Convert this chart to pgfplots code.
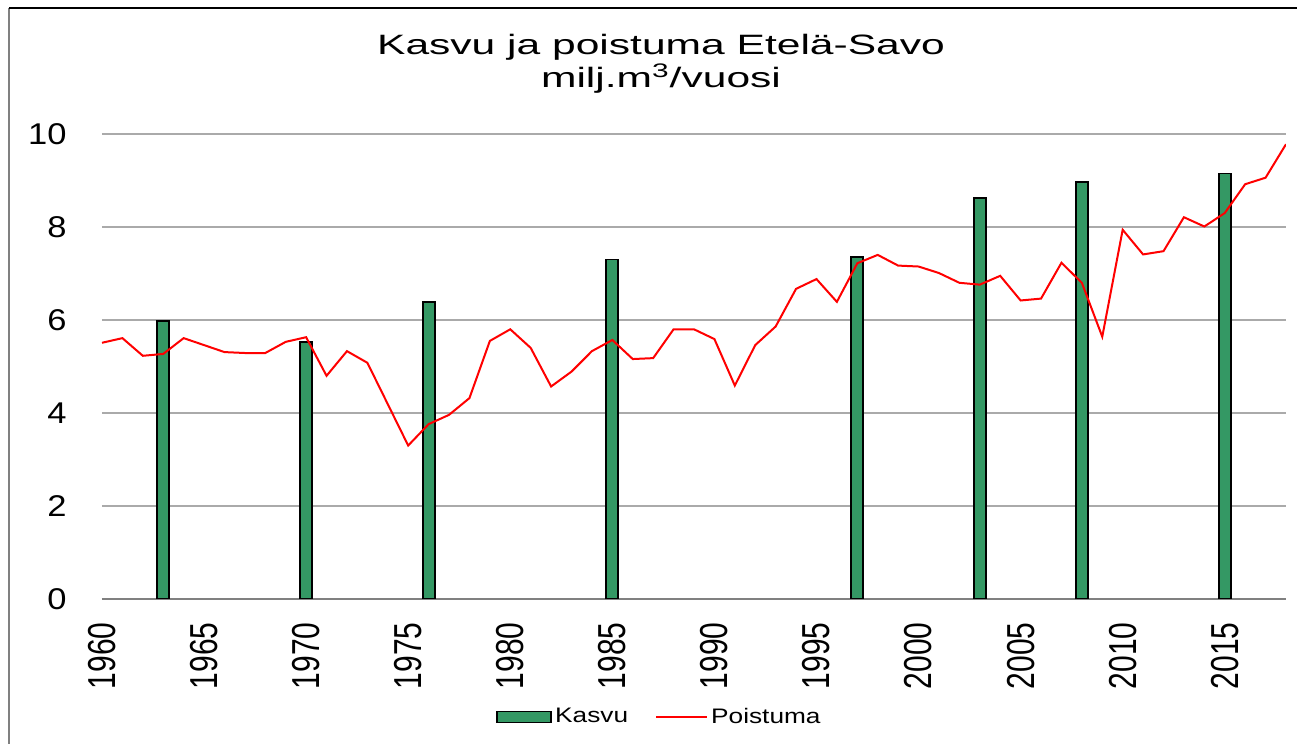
\documentclass[border=0pt]{standalone}
\usepackage{graphicx}
\usepackage{pgfplots}
\pgfplotsset{compat=1.18}
\usepackage{fontspec}
\setmainfont{Liberation Sans}
\newfontfamily\titlefont{Liberation Sans}[FakeStretch=1.52]
\newfontfamily\yfont{Liberation Sans}[FakeStretch=1.15]
\newfontfamily\legfont{Liberation Sans}[FakeStretch=1.25]
\definecolor{kasvu}{RGB}{52,152,100}
\definecolor{gridc}{RGB}{170,170,170}
\definecolor{axc}{RGB}{128,128,128}
\pgfplotsset{
  barleg/.style={legend image code/.code={\draw[##1] (0pt,-2.75pt) rectangle (27pt,2.75pt);}},
  lineleg/.style={legend image code/.code={\draw[##1] (0pt,0pt) -- (25.5pt,0pt);}},
}
\begin{document}
\begin{tikzpicture}
\useasboundingbox (0,0) rectangle (648.5pt,372pt);
\draw[line width=0.75pt, axc] (4.5pt,0pt) -- (4.5pt,368pt);
\draw[line width=0.75pt, black] (4.5pt,368pt) -- (648.5pt,368pt);
\node[anchor=base, font=\titlefont\fontsize{14}{16}\selectfont, inner sep=0pt] at (330.5pt,344.5pt) {Kasvu ja poistuma Etelä-Savo};
\node[anchor=base, font=\titlefont\fontsize{14}{16}\selectfont, inner sep=0pt] at (330.5pt,328pt) {milj.m\textsuperscript{3}/vuosi};
\begin{axis}[
  at={(51pt,72.5pt)}, anchor=south west,
  scale only axis, width=592pt, height=232.5pt,
  xmin=1960, xmax=2018, ymin=0, ymax=10,
  axis x line=bottom, axis y line=left,
  x axis line style={axc, line width=0.75pt, -},
  y axis line style={draw=none},
  major tick length=0pt,
  ymajorgrids, grid style={gridc, line width=0.75pt},
  xtick={1960,1965,...,2015}, ytick={0,2,...,10},
  /pgf/number format/assume math mode=true,
  /pgf/number format/1000 sep={},
  xticklabel={\scalebox{1}[1.3]{\pgfmathprintnumber{\tick}}},
  xticklabel style={font=\fontsize{15}{18}\selectfont, inner sep=0pt, yshift=-11.5pt, rotate=90, anchor=east},
  yticklabel style={font=\yfont\fontsize{15}{18}\selectfont, inner sep=0pt, xshift=-17.5pt, anchor=east},
  legend style={draw=none, fill=none, inner sep=0pt, at={(0.3328,-0.2538)}, anchor=west,
    font=\legfont\fontsize{10.5}{12}\selectfont,
    nodes={inner xsep=1.5pt, inner ysep=0pt},
    /tikz/every even column/.append style={column sep=12pt}},
  legend columns=2,
]
\addplot[ybar, bar width=6pt, fill=kasvu, draw=black, line width=0.9pt, barleg]
  coordinates {(1963,5.98) (1970,5.53) (1976,6.39) (1985,7.30) (1997,7.35) (2003,8.63) (2008,8.97) (2015,9.15)};
\addlegendentry{Kasvu}
\addplot[red, line width=1pt, mark=none, lineleg]
  coordinates {
  (1960,5.51) (1961,5.61) (1962,5.23) (1963,5.27) (1964,5.61) (1965,5.46) (1966,5.31) (1967,5.29) (1968,5.29) (1969,5.53)
  (1970,5.63) (1971,4.80) (1972,5.33) (1973,5.08) (1974,4.19) (1975,3.30) (1976,3.76) (1977,3.96) (1978,4.32) (1979,5.55)
  (1980,5.80) (1981,5.40) (1982,4.57) (1983,4.89) (1984,5.33) (1985,5.57) (1986,5.16) (1987,5.18) (1988,5.80) (1989,5.80)
  (1990,5.59) (1991,4.59) (1992,5.46) (1993,5.86) (1994,6.67) (1995,6.88) (1996,6.39) (1997,7.22) (1998,7.40) (1999,7.17)
  (2000,7.15) (2001,7.01) (2002,6.80) (2003,6.76) (2004,6.95) (2005,6.42) (2006,6.46) (2007,7.23) (2008,6.80) (2009,5.64)
  (2010,7.94) (2011,7.41) (2012,7.48) (2013,8.21) (2014,8.01) (2015,8.30) (2016,8.92) (2017,9.06) (2018,9.78)};
\addlegendentry{Poistuma}
\end{axis}
\end{tikzpicture}
\end{document}
